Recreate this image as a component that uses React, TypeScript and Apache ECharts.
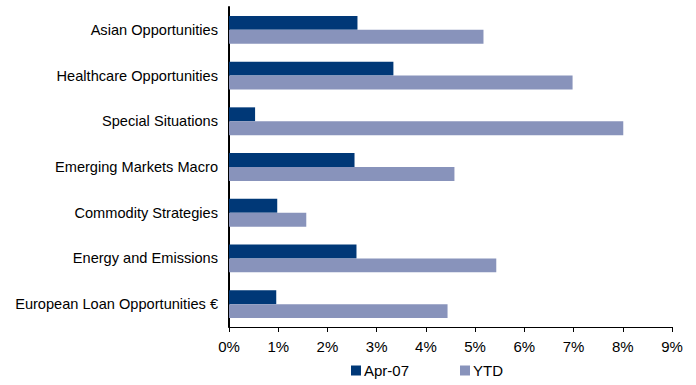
import React, { useEffect, useRef } from "react";
import * as echarts from "echarts";

const categories = [
  "Asian Opportunities",
  "Healthcare Opportunities",
  "Special Situations",
  "Emerging Markets Macro",
  "Commodity Strategies",
  "Energy and Emissions",
  "European Loan Opportunities €",
];
const apr07 = [2.61, 3.34, 0.53, 2.55, 0.98, 2.59, 0.96];
const ytd = [5.17, 6.98, 8.01, 4.58, 1.57, 5.43, 4.44];
const seriesNames = ["Apr-07", "YTD"];

export default function App() {
  const ref = useRef<HTMLDivElement>(null);
  useEffect(() => {
    const chart = echarts.init(ref.current!, null, { renderer: "svg" });
    const font = "'Liberation Sans', Arial, sans-serif";
    chart.setOption({
      animation: false,
      textStyle: { fontFamily: font },
      grid: { left: 229, right: 24, top: 7, bottom: 58, containLabel: false },
      legend: {
        bottom: 2,
        left: 346,
        itemWidth: 10,
        itemHeight: 10,
        itemGap: 51,
        icon: "rect",
        textStyle: { fontSize: 15, color: "#000", fontFamily: font, padding: [0, 0, 0, -2] },
        data: seriesNames,
      },
      xAxis: {
        type: "value",
        min: 0,
        max: 9,
        interval: 1,
        splitLine: { show: false },
        axisLine: { show: true, lineStyle: { color: "#000", width: 1 } },
        axisTick: { show: true, length: 5, lineStyle: { color: "#000" } },
        axisLabel: {
          formatter: (v: number) => v + "%",
          fontSize: 15,
          color: "#000",
          margin: 12,
          fontFamily: font,
        },
      },
      yAxis: {
        type: "category",
        data: categories,
        inverse: true,
        axisLine: { show: true, lineStyle: { color: "#000", width: 2 } },
        axisTick: { show: false },
        axisLabel: { fontSize: 14.6, color: "#000", margin: 11, fontFamily: font },
      },
      series: [
        {
          name: seriesNames[0],
          type: "bar",
          data: apr07,
          itemStyle: { color: "#003877" },
          barGap: "0%",
          barCategoryGap: "39%",
        },
        {
          name: seriesNames[1],
          type: "bar",
          data: ytd,
          itemStyle: { color: "#8893BB" },
          barGap: "0%",
          barCategoryGap: "39%",
        },
      ],
    });
    return () => chart.dispose();
  }, []);
  return (
    <div
      ref={ref}
      style={{ position: "absolute", left: 0, top: 0, width: 696, height: 385 }}
    />
  );
}
